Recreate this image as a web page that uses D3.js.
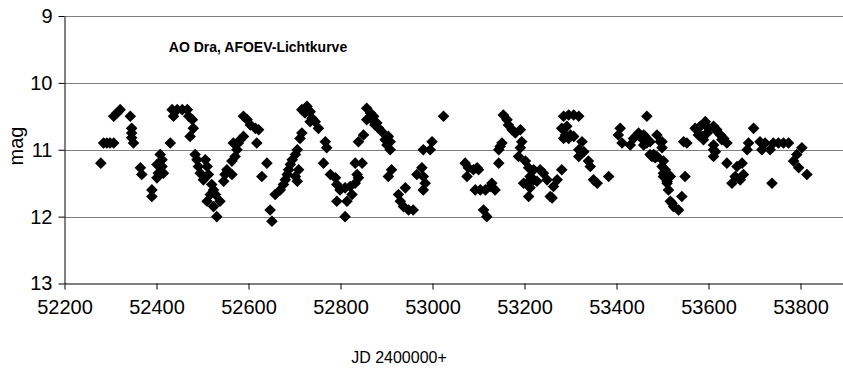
<!DOCTYPE html>
<html>
<head>
<meta charset="utf-8">
<script src="https://cdn.jsdelivr.net/npm/d3@7"></script>
<style>
  html, body { margin: 0; padding: 0; background: #fff; }
  svg { display: block; font-family: "Liberation Sans", Arial, sans-serif; }
</style>
</head>
<body>
<svg id="chart" width="843" height="374"></svg>
<script>
// AO Dra light curve, AFOEV visual estimates (JD - 2400000, magnitude)
const jd = [
  52279, 52285, 52292, 52299, 52307, 52307, 52314, 52321, 52343, 52346, 52346, 52346, 52350,
  52365, 52368, 52390, 52390, 52408, 52412, 52401, 52412, 52404, 52415, 52401, 52430,
  52434, 52445, 52456, 52467, 52437, 52470, 52478, 52480, 52473, 52484, 52488, 52491, 52495,
  52502, 52506, 52510, 52513, 52520, 52524, 52510, 52517, 52528, 52538, 52524, 52531,
  52546, 52549, 52553, 52564, 52567, 52564,
  52571, 52575, 52578, 52582, 52589, 52589, 52597, 52604, 52615, 52622, 52618, 52640, 52629,
  52658, 52647, 52651, 52669, 52676, 52680, 52684, 52687, 52691, 52695, 52702, 52706, 52702,
  52706, 52709, 52712, 52716, 52716, 52727, 52723, 52734, 52738, 52745, 52752, 52734, 52767,
  52770, 52763, 52778, 52789, 52792, 52799, 52810, 52821, 52832, 52839, 52836, 52832, 52847,
  52825, 52814, 52792, 52810, 52839, 52850, 52857, 52865, 52868, 52875, 52883, 52890, 52897,
  52857, 52872, 52879, 52904, 52908, 52908, 52901,
  52911, 52904, 52941, 52926, 52930, 52937, 52948, 52958, 52980, 52999, 52995, 52977, 52966,
  52980, 52984, 52980, 53024, 53071, 53078, 53075, 53097, 53089, 53100, 53093, 53104, 53115,
  53126, 53136, 53129, 53111, 53118, 53144, 53144, 53147, 53151, 53154, 53162, 53165, 53173,
  53180, 53191, 53194, 53191, 53187, 53202, 53209, 53212, 53205, 53209, 53220, 53220, 53234,
  53241, 53227, 53249, 53263, 53271, 53256, 53260, 53281, 53198, 53212,
  53285, 53296, 53307, 53318, 53281, 53292, 53289, 53300, 53285, 53296, 53307, 53325, 53318,
  53329, 53318, 53339, 53343, 53350, 53358, 53383, 53466, 53408, 53404, 53412, 53430, 53437,
  53448, 53455, 53462, 53466, 53459, 53473, 53488, 53499, 53481, 53473, 53488, 53502, 53499,
  53502, 53513, 53510, 53513, 53517, 53524, 53535, 53542, 53546, 53459, 53495, 53499, 53477,
  53484, 53506, 53502, 53517, 53510, 53549, 53521,
  53553, 53571, 53582, 53593, 53600, 53611, 53618, 53578, 53589, 53626, 53633, 53640, 53611,
  53615, 53611, 53640, 53662, 53673, 53676, 53658, 53651, 53669, 53698, 53687, 53684, 53712,
  53716, 53723, 53734, 53741, 53752, 53763, 53774, 53738, 53803, 53792, 53785, 53796, 53814,
  53586, 53597, 53615, 53629, 53611
];
const mag = [
  11.20, 10.90, 10.90, 10.90, 10.90, 10.50, 10.45, 10.40, 10.50, 10.68, 10.75, 10.82, 10.90,
  11.27, 11.37, 11.60, 11.70, 11.07, 11.15, 11.22, 11.25, 11.35, 11.35, 11.42, 10.90,
  10.40, 10.40, 10.40, 10.40, 10.50, 10.50, 10.55, 10.68, 10.80, 11.07, 11.15, 11.25, 11.35,
  11.45, 11.15, 11.25, 11.37, 11.52, 11.60, 11.77, 11.67, 11.67, 11.77, 11.85, 12.00,
  11.47, 11.37, 11.30, 11.17, 10.90, 11.37,
  11.10, 11.00, 10.90, 10.85, 10.80, 10.50, 10.55, 10.63, 10.68, 10.70, 10.90, 11.20, 11.40,
  11.67, 11.90, 12.07, 11.60, 11.52, 11.45, 11.37, 11.30, 11.22, 11.15, 11.07, 11.00, 11.40,
  11.47, 11.30, 10.83, 10.75, 10.40, 10.35, 10.45, 10.43, 10.53, 10.58, 10.68, 10.58, 10.88,
  10.97, 11.20, 11.37, 11.42, 11.52, 11.60, 11.57, 11.55, 11.50, 11.42, 11.37, 11.20, 11.20,
  11.67, 11.77, 11.77, 12.00, 10.88, 10.78, 10.38, 10.45, 10.55, 10.63, 10.68, 10.73, 10.85,
  10.55, 10.50, 10.60, 10.80, 10.88, 11.00, 10.93,
  11.30, 11.40, 11.57, 11.67, 11.77, 11.85, 11.90, 11.90, 11.00, 10.88, 11.00, 11.27, 11.37,
  11.40, 11.50, 11.60, 10.50, 11.20, 11.27, 11.40, 11.27, 11.30, 11.30, 11.60, 11.60, 11.60,
  11.55, 11.60, 11.50, 11.90, 12.00, 11.20, 11.00, 10.95, 10.90, 10.48, 10.55, 10.63, 10.70,
  10.75, 10.70, 10.88, 10.97, 11.10, 11.17, 11.27, 11.40, 11.50, 11.70, 11.45, 11.30, 11.30,
  11.35, 11.47, 11.45, 11.55, 11.45, 11.70, 11.72, 11.30, 11.50, 11.57,
  10.50, 10.48, 10.48, 10.50, 10.68, 10.65, 10.78, 10.78, 10.83, 10.83, 10.80, 10.88, 11.00,
  11.03, 11.10, 11.17, 11.25, 11.45, 11.50, 11.40, 10.50, 10.68, 10.78, 10.90, 10.93, 10.83,
  10.75, 10.83, 10.80, 10.90, 10.93, 10.88, 10.78, 10.88, 11.07, 11.07, 11.10, 11.17, 11.25,
  11.35, 11.37, 11.47, 11.60, 11.77, 11.85, 11.90, 11.70, 10.88, 10.78, 10.88, 10.97, 11.10,
  11.12, 11.30, 11.40, 11.40, 11.50, 11.40, 11.80,
  10.90, 10.68, 10.65, 10.58, 10.68, 10.65, 10.70, 10.78, 10.85, 10.78, 10.83, 10.90, 10.93,
  11.03, 11.10, 11.20, 11.25, 11.20, 11.37, 11.40, 11.50, 11.45, 10.68, 10.90, 11.00, 10.88,
  11.00, 10.90, 11.00, 10.90, 10.90, 10.90, 10.90, 11.50, 10.97, 11.07, 11.17, 11.27, 11.37,
  10.80, 10.75, 10.70, 10.85, 11.00
];
const xTicks = [52200, 52400, 52600, 52800, 53000, 53200, 53400, 53600, 53800];
const yTicks = [9, 10, 11, 12, 13];
const title = "AO Dra, AFOEV-Lichtkurve";
const xTitle = "JD 2400000+";
const yTitle = "mag";

const svg = d3.select("#chart");
const plot = { left: 64.5, right: 846.5, top: 16, bottom: 283.5 };

const x = d3.scaleLinear().domain([52200, 53900]).range([plot.left, plot.right]);
const y = d3.scaleLinear().domain([9, 13]).range([plot.top, plot.bottom]);

// horizontal gridlines
svg.append("g")
  .selectAll("line")
  .data(yTicks.slice(0, -1))
  .join("line")
  .attr("x1", plot.left).attr("x2", plot.right)
  .attr("y1", d => Math.round(y(d)) + 0.5).attr("y2", d => Math.round(y(d)) + 0.5)
  .attr("stroke", "#808080").attr("stroke-width", 1);

// y axis
const yAxis = svg.append("g")
  .attr("transform", `translate(${plot.left},0)`)
  .call(d3.axisLeft(y).tickValues(yTicks).tickSize(6).tickSizeOuter(0).tickPadding(6).tickFormat(d3.format("d")));
yAxis.select(".domain").attr("stroke", "#000");
yAxis.selectAll(".tick line").attr("stroke", "#000");
yAxis.selectAll("text").attr("font-size", 20).attr("fill", "#000");

// x axis
const xAxis = svg.append("g")
  .attr("transform", `translate(0,${plot.bottom})`)
  .call(d3.axisBottom(x).tickValues(xTicks).tickSize(6).tickSizeOuter(0).tickPadding(10).tickFormat(d3.format("d")));
xAxis.select(".domain").attr("stroke", "#000");
xAxis.selectAll(".tick line").attr("stroke", "#000");
xAxis.selectAll("text").attr("font-size", 20).attr("fill", "#000");

// diamond markers
const diamond = "M0,-5.8L5.8,0L0,5.8L-5.8,0Z";
svg.append("g")
  .selectAll("path")
  .data(jd.map((d, i) => [d, mag[i]]))
  .join("path")
  .attr("d", diamond)
  .attr("transform", d => `translate(${x(d[0])},${y(d[1])})`)
  .attr("fill", "#000");

// titles
svg.append("text")
  .attr("x", 258).attr("y", 52)
  .attr("text-anchor", "middle")
  .attr("font-size", 14).attr("font-weight", "bold")
  .text(title);

svg.append("text")
  .attr("x", 399).attr("y", 363)
  .attr("text-anchor", "middle")
  .attr("font-size", 16)
  .text(xTitle);

svg.append("text")
  .attr("transform", "translate(23,146) rotate(-90)")
  .attr("text-anchor", "middle")
  .attr("font-size", 20)
  .text(yTitle);
</script>
</body>
</html>
